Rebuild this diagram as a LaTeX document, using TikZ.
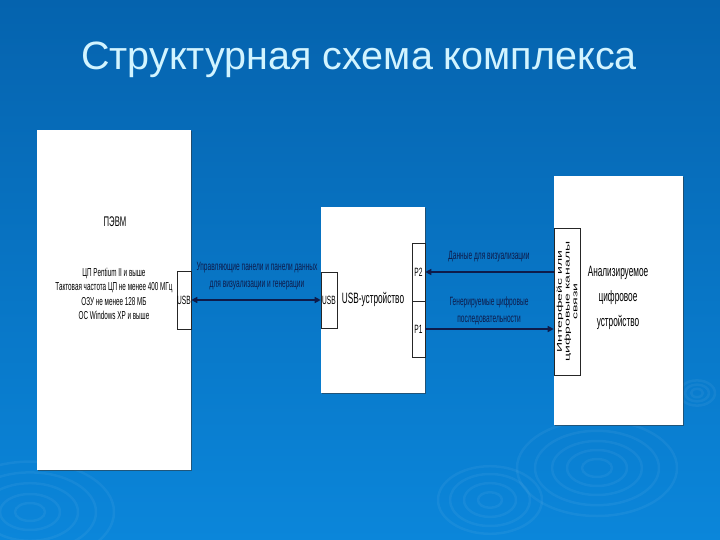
\documentclass[tikz,border=0pt]{standalone}
\usepackage{fontspec}
\setmainfont{Liberation Sans}
\newfontfamily\narrowf[FakeStretch=0.55]{Liberation Sans}
\newfontfamily\widef[FakeStretch=2.0]{Liberation Sans}
\usetikzlibrary{shadows,arrows.meta}
\definecolor{bgtop}{HTML}{0563AE}
\definecolor{bgbot}{HTML}{0B86DA}
\definecolor{titlec}{HTML}{D2F4FF}
\definecolor{navy}{HTML}{0E1B4A}
\begin{document}
\begin{tikzpicture}[x=1pt,y=-1pt,
  box/.style={fill=white, draw=none, inner sep=0pt,
    drop shadow={shadow xshift=1.2pt, shadow yshift=-1.2pt, opacity=0.55, fill=black!80}},
  port/.style={draw=black!85, line width=0.6pt, fill=white, inner sep=0pt,
    font=\narrowf\fontsize{12}{13}\selectfont},
  lbl/.style={font=\narrowf\fontsize{12}{17}\selectfont, text=navy, align=center, inner sep=0pt},
  boxtext/.style={font=\narrowf\fontsize{15}{25}\selectfont, align=center, inner sep=0pt},
  arr/.style={draw=navy, line width=1.8pt, -{Triangle[length=6pt,width=6pt]}},
  darr/.style={draw=navy, line width=1.8pt, {Triangle[length=6pt,width=6pt]}-{Triangle[length=6pt,width=6pt]}},
  ripple/.style={draw=white, opacity=0.05, line width=2.5pt}]
\useasboundingbox (0,0) rectangle (720,540);
\shade[top color=bgtop, bottom color=bgbot] (0,0) rectangle (720,540);
% decorative ripples
\foreach \r in {15,30,45,62,80}{
  \draw[ripple] (597,468) ellipse [x radius=\r, y radius=0.6*\r];}
\foreach \r in {12,26,40,52}{
  \draw[ripple] (490,500) ellipse [x radius=\r, y radius=0.65*\r];}
\foreach \r in {15,30,48,66,84}{
  \draw[ripple] (30,512) ellipse [x radius=\r, y radius=0.6*\r];}
\foreach \r in {6,12,18}{
  \draw[ripple] (697,393) ellipse [x radius=\r, y radius=0.7*\r];}

% title
\node[text=titlec, font=\fontsize{39.5}{44}\selectfont] (title) at (359,60) {Структурная схема комплекса};

% PC box
\node[box, minimum width=154pt, minimum height=340pt] (pc) at (114,300) {};
\node[font=\narrowf\fontsize{14}{15}\selectfont, inner sep=0pt] (pcname) at (115,222) {ПЭВМ};
\node[font=\narrowf\fontsize{11.5}{14.5}\selectfont, align=center, inner sep=0pt] (pcspec) at (114,294)
  {ЦП Pentium II и выше\\Тактовая частота ЦП не менее 400 МГц\\ОЗУ не менее 128 МБ\\ОС Windows XP и выше};
\node[port, minimum width=14pt, minimum height=58pt] (pcusb) at (184,300) {USB};

% USB device
\node[box, minimum width=104pt, minimum height=186pt] (dev) at (373,300) {};
\node[port, minimum width=16pt, minimum height=56pt] (devusb) at (329,300) {USB};
\node[boxtext] (devname) at (373,299) {USB-устройство};
\node[port, minimum width=13pt, minimum height=58pt] (p2) at (418.5,272) {P2};
\node[port, minimum width=13pt, minimum height=56pt] (p1) at (418.5,329) {P1};

% analysed device
\node[box, minimum width=129pt, minimum height=249pt] (tgt) at (618.5,300.5) {};
\node[draw=black!85, line width=0.6pt, fill=white, minimum width=26pt, minimum height=147pt, inner sep=0pt] (iface) at (567,301.5) {};
\node[rotate=90, align=center, inner sep=0pt, font=\widef\fontsize{7}{7.8}\selectfont] (ifacetext) at (iface.center)
  {Интерфейс или\\цифровые каналы\\связи};
\node[boxtext] (tgtname) at (618,298) {Анализируемое\\цифровое\\устройство};

% connectors
\draw[darr] (pcusb.east) -- (devusb.west);
\node[lbl] (l1) at (257,276) {Управляющие панели и панели данных\\для визуализации и генерации};
\draw[arr] (iface.west |- p2.east) -- (p2.east);
\node[lbl] (l2) at (489,257) {Данные для визуализации};
\draw[arr] (p1.east) -- (iface.west |- p1.east);
\node[lbl] (l3) at (489,311) {Генерируемые цифровые\\последовательности};
\end{tikzpicture}
\end{document}
